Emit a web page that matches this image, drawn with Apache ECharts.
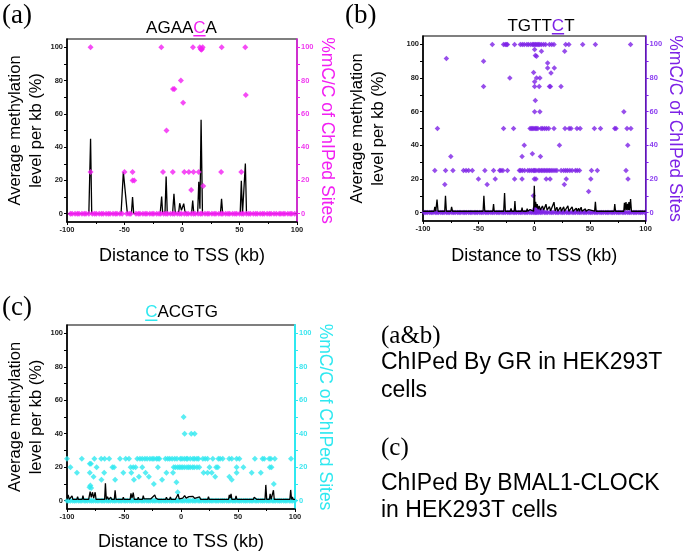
<!DOCTYPE html>
<html><head><meta charset="utf-8">
<script src="https://cdn.jsdelivr.net/npm/echarts@6/dist/echarts.min.js"></script>
<style>html,body{margin:0;padding:0;background:#fff}#c{width:685px;height:554px}</style>
</head><body><div id="c"></div>
<script>
// ---------- data ----------
const xTickLabels = [-100, -50, 0, 50, 100];
const yTickLabels = [0, 20, 40, 60, 80, 100];
const yMinorTicks = [0, 10, 20, 30, 40, 50, 60, 70, 80, 90, 100];

// Panel (a) AGAACA – average methylation per kb
const lineA = [[-100,0],[-81,0],[-79.5,45],[-78.5,0],[-53,0],[-51,25],[-50,24],[-47.5,0],[-44,0],[-43,10],[-42,0],[-19,0],[-17.7,10.3],[-16.8,0],[-14.8,0],[-13.8,22.4],[-12.8,0],[-8.2,0],[-7,11.9],[-5.8,0],[-3,0],[-2,6.3],[-0.5,2],[0.5,1.5],[1.5,6],[2.6,1],[3.8,1.4],[4.8,0],[8.3,0],[9.3,7.9],[10.3,0],[13.6,0],[14.6,19.2],[15.6,3],[16.6,56.5],[17.8,0],[33.4,0],[34.4,8.9],[35.4,0],[50.6,0],[51.6,19.8],[52.6,0],[54.1,0],[55.1,30.2],[56.1,0],[100,0]];
// Panel (a) %mC/C of ChIPed sites
const zeroSitesA = [-97,-95.5,-93,-91,-89.5,-87,-85,-83.5,-81,-78,-76,-74.5,-72,-70,-68.5,-66,-64,-62.5,-60,-58,-56.5,-54,-52,-48,-46,-44.5,-40,-38,-36.5,-34,-32,-30.5,-28,-26,-24.5,-22,-20,-18.5,-16,-14,-12.5,-10,-8,-6.5,-4,-2,-0.5,2,4,5.5,8,10,11.5,14,16,17.5,20,22,23.5,26,28,29.5,32,34,35.5,38,40,41.5,44,46,47.5,50,52,53.5,56,58,59.5,62,64,65.5,68,70,71.5,74,76,77.5,80,82,84.5,86,88,89.5,92,94,95.5,98];
const sitesA = [[-79.5,100],[-79.5,25],[-50,25],[-43,25],[-43,20],[-41.5,20],[-18,100],[-16.5,25],[-13.5,50],[-8,25],[-7.8,75],[-6.6,75],[-1,80],[1,66.7],[2,25],[6,25],[8,14.3],[9.5,100],[10,25],[14.5,25],[15.5,100],[16.2,99],[16.8,98.5],[17.4,99],[18,100],[18.5,16.7],[34.5,100],[34,25],[51.5,25],[55,100],[55.5,71.4]];

// Panel (b) TGTTCT
const lineB = [[-100,0.8],[-90,0.8],[-89.4,3.4],[-88.5,0.8],[-87.4,7.8],[-86.5,0.8],[-80.5,0.8],[-79.8,10],[-79,0.8],[-75,0.8],[-74.3,3.4],[-73.5,0.8],[-64,0.8],[-63.3,1.8],[-62.5,0.8],[-60,0.8],[-59.5,1.8],[-59,0.8],[-56.5,0.8],[-56,1.8],[-55.5,0.8],[-50.7,0.8],[-50.2,1.8],[-49.7,0.8],[-46,0.8],[-45.3,10],[-44.5,0.8],[-37.3,0.8],[-36.6,5],[-36,0.8],[-27.5,0.8],[-26.7,11.6],[-26,0.8],[-21.5,0.8],[-20.9,2.5],[-20.3,0.8],[-18,0.8],[-17.4,6.8],[-16.8,0.8],[-11.6,0.8],[-11,3],[-10.4,0.8],[-7,0.8],[-6.4,2.4],[-5.8,0.8],[-4.3,0.8],[-3.8,1.8],[-3.3,0.8],[-0.6,0.8],[0,16],[0.6,3],[1.2,6.4],[2,3],[2.6,5],[3.4,2],[4.4,4],[5.5,1.5],[7.3,3.9],[8.5,1.5],[10.5,5],[11.5,1.5],[13.6,3.6],[14.6,1],[17.7,6.2],[18.7,1],[20.3,3.2],[21.2,0.8],[23.5,3.2],[24.3,0.8],[26.4,3.4],[27.2,0.8],[30.2,4],[31,0.8],[34,3.4],[34.8,0.8],[37.7,2.6],[38.4,0.8],[39.8,2.6],[40.5,0.8],[42.1,3.2],[42.8,0.8],[45.9,2.2],[46.5,0.8],[48.8,1.8],[49.4,0.8],[54.2,0.8],[54.9,6.4],[55.6,0.8],[58.7,0.8],[59.2,1.8],[59.8,0.8],[71.7,0.8],[72.3,5],[73,0.8],[80.4,0.8],[81,5.8],[81.6,1.5],[82.4,6.2],[83.1,1.5],[83.9,5.2],[84.5,1.5],[85,6.2],[85.7,1.5],[86.5,8],[87.3,0.8],[100,0.8]];
const zeroSitesB = [-99,-97.5,-96,-94,-92.5,-91,-89,-87.5,-86,-84,-82.5,-81,-79,-77.5,-76,-74,-72.5,-71,-69,-67.5,-66,-64,-62.5,-61,-59,-57.5,-56,-54,-52.5,-51,-49,-47.5,-46,-44,-42.5,-41,-39,-37.5,-36,-34,-32.5,-31,-29,-27.5,-26,-24,-22.5,-21,-19,-17.5,-16,-14,-12.5,-11,-9,-7.5,-6,-4,-2.5,-1,0.5,1.5,2.5,4,5.5,7,9,10.5,12,14,15.5,17,19,20.5,22,24,25.5,27,29,30.5,32,34,35.5,37,39,40.5,42,44,45.5,47,49,50.5,52,54,55.5,57,59,60.5,62,64,65.5,67,69,70.5,72,74,75.5,77,79,80.5,82,84,85.5,87,89,90.5,92,94,95.5,97,99];
const sitesB = [
 [-37.7,100],[-27.6,100],[-26.1,100],[-25,100],[-24.1,100],[-17.7,100],[-12.5,100],[-10.7,100],[-9,100],[-6.7,100],[-5.2,100],[-3.2,100],[-1.5,100],[-0.6,100],[0.6,100],[1.5,100],[2.6,100],[3.8,100],[4.9,100],[6.4,100],[8.4,100],[10.2,100],[13.6,100],[15.7,100],[17.7,100],[28.2,100],[31.1,100],[43.5,100],[54.9,100],[86.5,100],
 [-79,91.6],[-45.6,90],[-45.6,75],[-22,80],[0.3,97],[1,93.4],[2,93],[6.4,96],[27.3,96],[-0.6,83.3],[0.3,77.8],[2,80],[5,80],[0.3,75],[4.4,75],[13.6,75],[14.5,75],[24,75],[12,89],[12,86],[18,86],[15,83],
 [0.9,66.7],[0.3,60],[5,60],[80.5,60],
 [-87,50],[-27.6,50],[-18.6,50],[-3.8,50],[-2.6,50],[-1.5,50],[-0.3,50],[0.9,50],[2,50],[3.2,50],[6.1,50],[7.5,50],[9.3,50],[11,50],[13,50],[17.7,50],[27.6,50],[31.3,50],[33,50],[38.3,50],[41.2,50],[54,50],[59.5,50],[72.3,50],[73.4,50],[83.3,50],[86.8,50],
 [-9,40],[22.6,40],[84,40],[-75,33.3],[-11,33.3],[5.5,33.3],[-1.7,35],
 [-89.4,25],[-79.7,25],[-73.1,25],[-63.6,25],[-61.3,25],[-59,25],[-55.7,25],[-44.4,25],[-36.6,25],[-31.1,25],[-29.9,25],[-28.2,25],[-24.1,25],[-13.4,25],[-12.2,25],[-10.7,25],[-8.7,25],[-5.8,25],[-4.1,25],[-2.3,25],[-0.6,25],[0.3,25],[1.5,25],[3.5,25],[4.9,25],[6.4,25],[7.8,25],[9.3,25],[10.7,25],[12.2,25],[13.6,25],[15.1,25],[16.8,25],[18.6,25],[20.3,25],[24.1,25],[26.4,25],[28.2,25],[29.9,25],[31.9,25],[34,25],[36.9,25],[38.6,25],[40.6,25],[51.4,25],[56.6,25],[82.4,25],
 [-50.2,20],[-35.1,20],[-17.7,20],[-11,20],[0,20],[1.5,20],[10.7,20],[14.2,20],[28.7,20],[50.8,20],[84.2,20],
 [-80.4,16.7],[-42.4,16.7],[27,16.7],[48.8,12.5],[-0.9,10],
 [0,2],[1,3],[2,2.5],[3,2],[5,1.5],[7,1]
];

// Panel (c) CACGTG
const lineC = [[-100,0.8],[-99,3.4],[-98,0.7],[-96.3,0.7],[-95.6,2.8],[-94.8,0.7],[-91.4,0.7],[-90.7,2.4],[-90,0.7],[-86.7,0.7],[-86,3],[-85.3,0.7],[-81,0.7],[-79.7,5.4],[-78.7,2],[-77.6,5],[-76.6,1.5],[-75.3,5],[-74.5,0.7],[-67,0.7],[-66.3,10.4],[-65.5,0.7],[-64.5,2.4],[-63.5,0.7],[-61.6,2],[-60.8,0.7],[-58.5,0.7],[-57.8,6.2],[-57,0.7],[-51.3,0.7],[-50.6,2],[-49.9,0.7],[-44.6,0.7],[-43.9,4.4],[-43,1.5],[-41.9,4.8],[-41,0.7],[-38.2,0.7],[-37.5,2],[-36.8,0.7],[-33.8,0.7],[-33.1,3],[-32.4,1],[-26.6,1],[-25.9,2],[-25,1],[-23,3.4],[-22,1.5],[-20,0.7],[-13.5,0.7],[-12.8,2],[-12,0.7],[-10,0.7],[-9.3,2.2],[-8.5,0.7],[-5,0.7],[-2.6,3.8],[-1.5,1],[0,1],[1.5,1.5],[3.2,3],[4.5,1.5],[7,2.4],[8.5,1.5],[10.5,2.6],[12,1.3],[16.3,2.2],[17.3,0.7],[23.4,0.7],[24.1,2.4],[24.8,0.7],[33,0.7],[33.7,1.6],[34.4,0.7],[41.7,0.7],[42.4,3.4],[43.1,1.5],[43.9,4],[44.6,0.7],[47.6,0.7],[48.3,2.8],[49,0.7],[54.8,0.7],[55.5,1.3],[56.2,0.7],[63.5,0.7],[64.2,2],[65,1],[65.7,2.4],[66.5,0.7],[73.7,0.7],[74.4,9.4],[75.2,0.7],[77.5,0.7],[78.2,4],[79,0.7],[80.4,0.7],[81.1,6.2],[81.8,0.7],[95.5,0.7],[96.2,6.4],[97,0.7],[97.7,2.2],[98.4,0.7],[100,0.7]];
const zeroSitesC = [-100,-98.5,-97,-95,-93.5,-92,-90,-88.5,-87,-85,-83.5,-82,-80,-78.5,-77,-75,-73.5,-72,-70,-68.5,-67,-65,-63.5,-62,-60,-58.5,-57,-55,-53.5,-52,-50,-48.5,-47,-45,-43.5,-42,-40,-38.5,-37,-35,-33.5,-32,-30,-28.5,-27,-25,-23.5,-22,-20,-18.5,-17,-15,-13.5,-12,-10,-8.5,-7,-5,-3.5,-2,0,1.5,3,5,6.5,8,10,11.5,13,15,16.5,18,20,21.5,23,25,26.5,28,30,31.5,33,35,36.5,38,40,41.5,43,45,46.5,48,50,51.5,53,55,56.5,58,60,61.5,63,65,66.5,68,70,71.5,73,75,76.5,78,80,81.5,83,85,86.5,88,90,91.5,93,95,96.5,98,100];
const sitesC = [
 [-100,25],[-87,25],[-76,25],[-70,25],[-67,25],[-63,25],[-53.5,25],[-48.5,25],[-45.6,25],[-38.4,25],[-36,25],[-34,25],[-31.7,25],[-29.7,25],[-27.3,25],[-25.3,25],[-23.8,25],[-21.5,25],[-20.1,25],[-18.9,25],[-13.7,25],[-11.6,25],[-9.9,25],[-7.8,25],[-5.5,25],[-3.5,25],[-0.6,25],[0.9,25],[2.9,25],[4.7,25],[5.8,25],[8.1,25],[10.5,25],[11.9,25],[14,25],[15.4,25],[19.2,25],[21.2,25],[23.3,25],[27.9,25],[32.8,25],[34.3,25],[36.6,25],[42.2,25],[44.5,25],[48.8,25],[51.2,25],[64.8,25],[71.5,25],[73,25],[77.3,25],[78.8,25],[82.3,25],[96.5,25],
 [-97,20],[-74,20],[-60.2,20],[-58.7,20],[-44.2,20],[-41.9,20],[-39.8,20],[-34,20],[-20.3,20],[-6.4,20],[-4.9,20],[-2.9,20],[-1.5,20],[0,20],[1.5,20],[3.2,20],[5.2,20],[6.7,20],[8.1,20],[10.2,20],[11.6,20],[14,20],[16,20],[25,20],[30.8,20],[32.3,20],[48.8,20],[54.7,20],[77.9,20],[79.4,20],
 [-91.3,16.7],[-80,16.7],[-67.4,16.7],[-50.6,16.7],[-43.6,16.7],[-31.1,16.7],[-12.8,16.7],[-7,16.7],[19.8,16.7],[23.3,16.7],[27,16.7],[48.8,16.7],[62,16.7],[70,16.7],
 [-76.7,14.3],[-36.9,14.3],[-28.2,14.3],[30,14.3],[42.4,14.3],
 [-69.8,12.5],[-57.8,12.5],[-41.3,12.5],[-16.6,12.5],[44.5,12.5],
 [-23.8,10],[81.4,10],
 [-80,22],[-79,22],[-79.5,9],[-80.3,8],[-78.8,7.5],
 [-4,11],[-2.9,5],[2.3,50],[3.2,40],[9,40],[12,40]
];

// ---------- styling / layout ----------
const COLORS = ['#f21ff2', '#7d22e6', '#2fe8f0'];
const LABEL_COLORS = ['#f03cf0', '#8a3cf0', '#3fe6f0'];
const grids = [
  {left: 67, top: 39, width: 230, height: 183},
  {left: 423, top: 36, width: 229, height: 185},
  {left: 67, top: 325, width: 228, height: 184}
];
const gaps = [ {l: 18, r: 15, x: 25}, {l: 34, r: 11, x: 26}, {l: 20, r: 18, x: 24} ];
const SANS = '"Liberation Sans", Arial, sans-serif';
const SERIF = '"Liberation Serif", "Times New Roman", serif';

const xAxes = [], yAxes = [], series = [];
grids.forEach((g, i) => {
  xAxes.push({
    gridIndex: i, type: 'value', min: -100, max: 100, interval: 50, position: 'bottom',
    axisLine: {onZero: false, lineStyle: {color: '#000', width: 1.5}},
    axisTick: {length: 3, lineStyle: {color: '#000'}},
    minorTick: {show: true, splitNumber: 2, length: 2, lineStyle: {color: '#000'}},
    splitLine: {show: false},
    axisLabel: {fontSize: 7.5, fontWeight: 'bold', color: '#222', margin: 4, fontFamily: SANS,
      customValues: xTickLabels},
    name: 'Distance to TSS (kb)', nameLocation: 'middle', nameGap: gaps[i].x,
    nameTextStyle: {fontSize: 18, color: '#000', fontFamily: SANS}
  });
  yAxes.push({
    gridIndex: i, type: 'value', min: -5, max: 105, position: 'left',
    axisLine: {show: true, onZero: false, lineStyle: {color: '#000', width: 1.5}},
    axisTick: {show: true, length: 3, customValues: yMinorTicks, lineStyle: {color: '#000'}},
    axisLabel: {fontSize: 7.5, fontWeight: 'bold', color: '#222', margin: 4, fontFamily: SANS,
      customValues: yTickLabels},
    splitLine: {show: false},
    name: 'Average methylation\nlevel per kb (%)', nameLocation: 'middle', nameGap: gaps[i].l,
    nameTextStyle: {fontSize: 16.5, lineHeight: 21, color: '#000', fontFamily: SANS}
  });
  yAxes.push({
    gridIndex: i, type: 'value', min: -5, max: 105, position: 'right',
    axisLine: {show: true, onZero: false, lineStyle: {color: COLORS[i], width: i === 2 ? 2 : 1.5}},
    axisTick: {show: true, length: 3, customValues: yMinorTicks, lineStyle: {color: COLORS[i]}},
    axisLabel: {fontSize: 7.5, fontWeight: 'bold', color: LABEL_COLORS[i], margin: 4, fontFamily: SANS,
      customValues: yTickLabels},
    splitLine: {show: false},
    name: '%mC/C of ChIPed Sites', nameLocation: 'middle', nameGap: gaps[i].r, nameRotate: -90,
    nameTextStyle: {fontSize: 17.5, color: COLORS[i], fontFamily: SANS}
  });
});

const lines = [lineA, lineB, lineC];
const zeros = [zeroSitesA, zeroSitesB, zeroSitesC];
const sites = [sitesA, sitesB, sitesC];
const symSize = [6, 5.5, 6];
grids.forEach((g, i) => {
  const scatterData = zeros[i].map(x => [x, 0]).concat(sites[i]);
  const lineSeries = {
    type: 'line', xAxisIndex: i, yAxisIndex: 2 * i, data: lines[i], showSymbol: false,
    lineStyle: {color: '#000', width: 1.3}, z: i === 0 ? 2 : 4, animation: false
  };
  const scatSeries = {
    type: 'scatter', xAxisIndex: i, yAxisIndex: 2 * i + 1, data: scatterData,
    symbol: 'diamond', symbolSize: symSize[i], itemStyle: {color: COLORS[i]},
    z: i === 0 ? 4 : 2, animation: false
  };
  series.push(lineSeries, scatSeries);
});

// ---------- motif titles with coloured underlined C ----------
const mctx = document.createElement('canvas').getContext('2d');
function motif(cx, cy, pre, mid, post, color) {
  const fs = 17;
  mctx.font = fs + 'px ' + SANS;
  const w1 = mctx.measureText(pre).width, w2 = mctx.measureText(mid).width, w3 = mctx.measureText(post).width;
  const x0 = cx - (w1 + w2 + w3) / 2;
  const base = {fontSize: fs, fontFamily: SANS, verticalAlign: 'middle', align: 'left'};
  return [
    {type: 'text', x: x0, y: cy, style: Object.assign({text: pre, fill: '#000'}, base)},
    {type: 'text', x: x0 + w1, y: cy, style: Object.assign({text: mid, fill: color}, base)},
    {type: 'text', x: x0 + w1 + w2, y: cy, style: Object.assign({text: post, fill: '#000'}, base)},
    {type: 'rect', shape: {x: x0 + w1, y: cy + 7, width: w2, height: 1.5}, style: {fill: color}}
  ];
}
function txt(x, y, s, fs, fam) {
  return {type: 'text', x: x, y: y, style: {text: s, fontSize: fs, fontFamily: fam, fill: '#000', verticalAlign: 'middle', align: 'left'}};
}

const graphics = [].concat(
  motif(181.5, 28, 'AGAA', 'C', 'A', COLORS[0]),
  motif(541, 26, 'TGTT', 'C', 'T', COLORS[1]),
  motif(181.5, 312.5, '', 'C', 'ACGTG', COLORS[2]),
  [
    txt(2, 16, '(a)', 27, SERIF),
    txt(345, 16, '(b)', 27, SERIF),
    txt(2, 308, '(c)', 27, SERIF),
    txt(381, 336, '(a&b)', 25, SERIF),
    txt(381, 363, 'ChIPed By GR in HEK293T', 23, SANS),
    txt(381, 391, 'cells', 23, SANS),
    txt(381, 448, '(c)', 25, SERIF),
    txt(381, 484, 'ChIPed By BMAL1-CLOCK', 23, SANS),
    txt(381, 511, 'in HEK293T cells', 23, SANS)
  ]
);

const chart = echarts.init(document.getElementById('c'), null, {renderer: 'canvas'});
chart.setOption({
  animation: false,
  backgroundColor: '#fff',
  textStyle: {fontFamily: SANS},
  grid: grids.map(g => Object.assign({show: true, borderColor: '#000', borderWidth: 1.2, backgroundColor: 'transparent'}, g)),
  xAxis: xAxes,
  yAxis: yAxes,
  series: series,
  graphic: graphics
});
</script>
</body></html>
